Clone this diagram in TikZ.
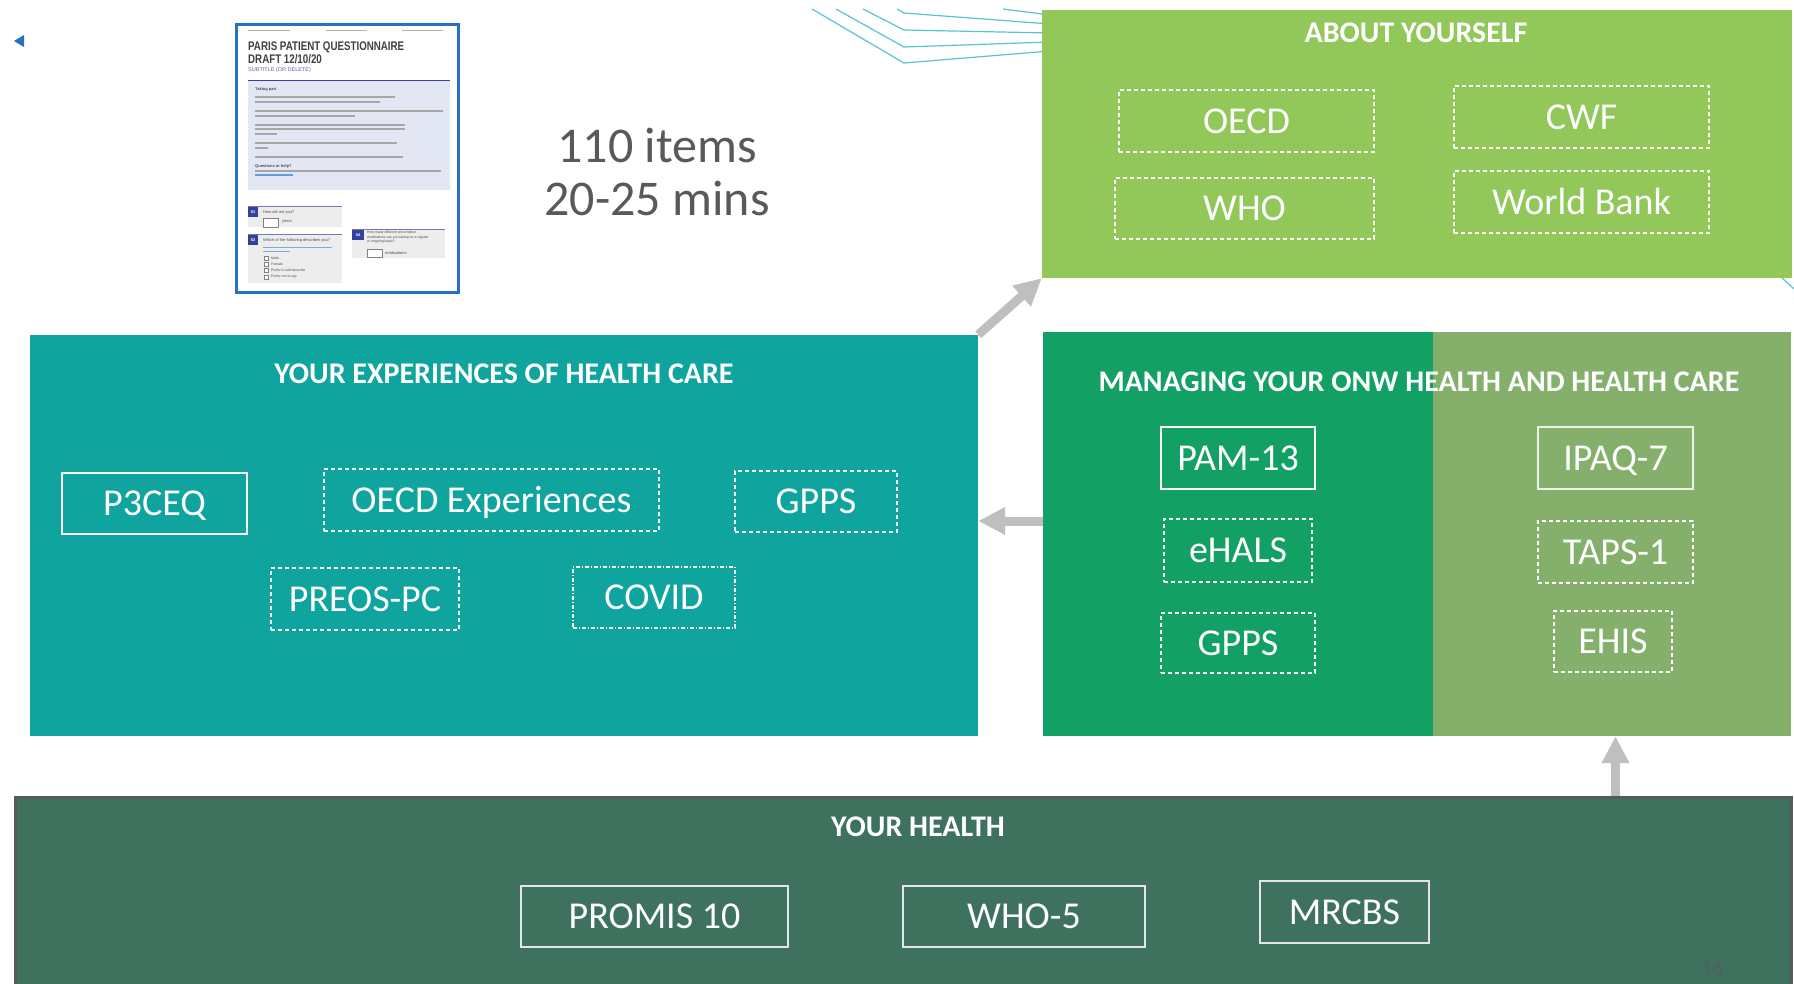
\documentclass[tikz,border=0pt]{standalone}
\usepackage{fontspec}
\setmainfont{Carlito}
\newfontfamily\docfont{Liberation Sans}
\newfontfamily\doctitlefont[FakeStretch=0.78]{Liberation Sans}
\usetikzlibrary{arrows.meta}

\definecolor{aboutgreen}{RGB}{146,200,90}
\definecolor{expteal}{RGB}{15,164,158}
\definecolor{mangreen}{RGB}{19,160,101}
\definecolor{manlight}{RGB}{132,176,108}
\definecolor{healthgreen}{RGB}{62,114,94}
\definecolor{framegray}{RGB}{89,89,89}
\definecolor{arrowgray}{RGB}{191,191,191}
\definecolor{linecyan}{RGB}{86,196,212}
\definecolor{docblue}{RGB}{38,112,200}
\definecolor{docnavy}{RGB}{52,64,160}
\definecolor{docpanel}{RGB}{226,231,243}
\definecolor{textgray}{RGB}{89,89,89}

\tikzset{
  panel/.style={rectangle, inner sep=0pt, draw=none},
  heading/.style={text=white, font=\fontsize{30}{36}\selectfont\bfseries, text height=19pt, text depth=0pt, inner sep=0pt},
  solidbox/.style={rectangle, draw=white, line width=1.5pt, text=white, font=\fontsize{38}{44}\selectfont, text height=24pt, text depth=0pt, inner sep=0pt},
  dashbox/.style={solidbox, dash pattern=on 4pt off 3pt},
  dotbox/.style={solidbox, dash pattern=on 4pt off 2pt on 1pt off 2pt},
  bigarrow/.style={arrowgray, line width=9pt, -{Triangle[length=27pt,width=26pt]}},
  tiny/.style={anchor=west, inner sep=0pt, text=black!70, font=\docfont\fontsize{4}{4.5}\selectfont},
  qnum/.style={fill=docnavy, text=white, inner sep=0pt, minimum width=10pt, minimum height=10pt, font=\docfont\bfseries\fontsize{4}{4}\selectfont},
}

\begin{document}
\begin{tikzpicture}[x=1pt, y=-1pt]
    \useasboundingbox (0,0) rectangle (1794,983);
    \fill[white] (0,0) rectangle (1794,983);

    % lines behind the top panel
    \draw[linecyan, line width=1.2pt] (812,9) -- (904,63) -- (1050,51);
    \draw[linecyan, line width=1.2pt] (836,9) -- (904,47) -- (1050,42);
    \draw[linecyan, line width=1.2pt] (863,9) -- (904,30) -- (1050,33);
    \draw[linecyan, line width=1.2pt] (897,9) -- (904,13) -- (1050,24);
    \draw[linecyan, line width=1.2pt] (1003,9) -- (1050,15);
    \draw[linecyan, line width=1.2pt] (1780,276) -- (1794,289);

    \fill[docblue] (14,41) -- (24,35) -- (24,47) -- cycle;

    % questionnaire thumbnail
    \node[draw=docblue, line width=3pt, fill=white, minimum width=222pt, minimum height=268pt, inner sep=0pt] (doc) at (347,158) {};
    \foreach \a/\b in {248/290, 326/367, 402/443}
        \draw[gray!60, line width=1pt] (\a,30) -- (\b,30);
    \node[anchor=north west, inner sep=0pt, align=left, text=black!75, font=\doctitlefont\bfseries\fontsize{12.5}{11}\selectfont] (doctitle) at (248,42) {PARIS PATIENT QUESTIONNAIRE\\DRAFT 12/10/20};
    \node[anchor=north west, inner sep=0pt, text=docnavy!80, font=\docfont\fontsize{5.5}{6}\selectfont] (docsub) at (248,67) {SUBTITLE (OR DELETE)};
    \draw[docnavy, line width=1pt] (248,80) -- (450,80);
    \fill[docpanel] (248,81) rectangle (450,190);
    \node[tiny, font=\docfont\bfseries\fontsize{4}{4}\selectfont] (taking) at (255,89) {Taking part};
    \foreach \y/\e in {97/395, 102/380, 111/443, 116/355, 125/405, 129/405, 134/277, 143/397, 148/268, 157/403, 171/441}
        \draw[gray!70, line width=1.1pt] (255,\y) -- (\e,\y);
    \node[tiny, font=\docfont\bfseries\fontsize{4}{4}\selectfont] (help) at (255,166) {Questions or help?};
    \draw[docblue!70, line width=1.1pt] (255,175) -- (293,175);

    \fill[black!7] (248,206) rectangle (342,227);
    \draw[docnavy!70, line width=0.8pt] (248,206) -- (342,206);
    \node[qnum] (qa) at (253,212) {01};
    \node[tiny] (qatext) at (263,212) {How old are you?};
    \draw[gray, fill=white, line width=0.4pt] (263,218) rectangle (278,227);
    \node[tiny] (years) at (282,222) {years};

    \fill[black!7] (248,234) rectangle (342,283);
    \draw[docnavy!70, line width=0.8pt] (248,234) -- (342,234);
    \node[qnum] (qb) at (253,240) {02};
    \node[tiny] (qbtext) at (263,240) {Which of the following describes you?};
    \draw[docblue!60, line width=1pt] (263,247) -- (332,247);
    \draw[docblue!60, line width=1pt] (263,251) -- (290,251);
    \foreach \y/\t in {258/Male, 264/Female, 270/Prefer to self-describe, 277/Prefer not to say} {
        \draw[gray, fill=white, line width=0.4pt] (264,\y-2) rectangle (268,\y+2);
        \node[tiny, font=\docfont\fontsize{3.5}{4}\selectfont] at (271,\y) {\t};
    }

    \fill[black!7] (352,229) rectangle (445,258);
    \draw[docnavy!70, line width=0.8pt] (352,229) -- (445,229);
    \node[qnum, minimum width=12pt] (qd) at (358,235) {04};
    \node[tiny, align=left, anchor=north west, font=\docfont\fontsize{3.5}{4.3}\selectfont] (qdtext) at (367,231) {How many different prescription\\medications are you taking on a regular\\or ongoing basis?};
    \draw[gray, fill=white, line width=0.4pt] (367,249) rectangle (382,257);
    \node[tiny] (meds) at (385,253) {medications};

    % size of the questionnaire
    \node[anchor=base, inner sep=0pt, text=textgray, font=\fontsize{50}{60}\selectfont] (items) at (657,162) {110 items};
    \node[anchor=base, inner sep=0pt, text=textgray, font=\fontsize{50}{60}\selectfont] (mins) at (657,215) {20-25 mins};

    % about yourself
    \node[panel, fill=aboutgreen, minimum width=750pt, minimum height=268pt] (about) at (1417,144) {};
    \node[heading] (abouttitle) at (1416,33) {ABOUT YOURSELF};
    \node[dashbox, minimum width=255pt, minimum height=62pt] (oecd) at (1246.5,121) {OECD};
    \node[dashbox, minimum width=259pt, minimum height=61pt] (who) at (1244.5,208.5) {WHO};
    \node[dashbox, minimum width=255pt, minimum height=62pt] (cwf) at (1581.5,117) {CWF};
    \node[dashbox, minimum width=255pt, minimum height=62pt] (wbank) at (1581.5,202) {World Bank};

    % experiences of health care
    \node[panel, fill=expteal, minimum width=948pt, minimum height=401pt] (exper) at (504,535.5) {};
    \node[heading] (expertitle) at (504,374) {YOUR EXPERIENCES OF HEALTH CARE};
    \node[solidbox, minimum width=185pt, minimum height=61pt] (p3ceq) at (154.5,503.5) {P3CEQ};
    \node[dashbox, minimum width=335pt, minimum height=62pt] (oecdexp) at (491.5,500) {OECD Experiences};
    \node[dashbox, minimum width=162pt, minimum height=61pt] (gpps) at (816,501.5) {GPPS};
    \node[dashbox, minimum width=188pt, minimum height=62pt] (preos) at (365,599) {PREOS-PC};
    \node[dotbox, minimum width=162pt, minimum height=61pt] (covid) at (654,597.5) {COVID};

    % managing own health
    \node[panel, fill=mangreen, minimum width=390pt, minimum height=404pt] (mleft) at (1238,534) {};
    \node[panel, fill=manlight, minimum width=358pt, minimum height=404pt] (mright) at (1612,534) {};
    \node[heading] (mantitle) at (1419,382) {MANAGING YOUR ONW HEALTH AND HEALTH CARE};
    \node[solidbox, minimum width=154pt, minimum height=62pt] (pam) at (1238,458) {PAM-13};
    \node[dashbox, minimum width=148pt, minimum height=63pt] (ehals) at (1238,550.5) {eHALS};
    \node[dashbox, minimum width=154pt, minimum height=60pt] (gppsm) at (1238,643) {GPPS};
    \node[solidbox, draw=white!85!manlight, minimum width=155pt, minimum height=62pt] (ipaq) at (1615.5,458) {IPAQ-7};
    \node[dashbox, minimum width=155pt, minimum height=62pt] (taps) at (1615.5,552) {TAPS-1};
    \node[dashbox, minimum width=118pt, minimum height=61pt] (ehis) at (1613,641.5) {EHIS};

    % your health
    \node[panel, fill=healthgreen, draw=framegray, line width=3pt, minimum width=1776pt, minimum height=193pt] (health) at (903,893.5) {};
    \node[heading] (healthtitle) at (918,827) {YOUR HEALTH};
    \node[solidbox, draw=white!90!black, minimum width=267pt, minimum height=61pt] (promis) at (654.5,916.5) {PROMIS 10};
    \node[solidbox, draw=white!90!black, minimum width=242pt, minimum height=61pt] (whofive) at (1024,916.5) {WHO-5};
    \node[solidbox, draw=white!90!black, minimum width=169pt, minimum height=62pt] (mrcbs) at (1344.5,912) {MRCBS};
    \node[anchor=base, inner sep=0pt, text=framegray!70!healthgreen, font=\fontsize{22}{26}\selectfont] (pagenum) at (1712,975) {16};

    \draw[bigarrow] (exper.north east) -- (about.south west);
    \draw[bigarrow] ([yshift=13pt]mleft.west) -- ([yshift=13pt]mleft.west -| exper.east);
    \draw[bigarrow] (ipaq |- health.north) -- (ipaq |- mright.south);
\end{tikzpicture}
\end{document}
